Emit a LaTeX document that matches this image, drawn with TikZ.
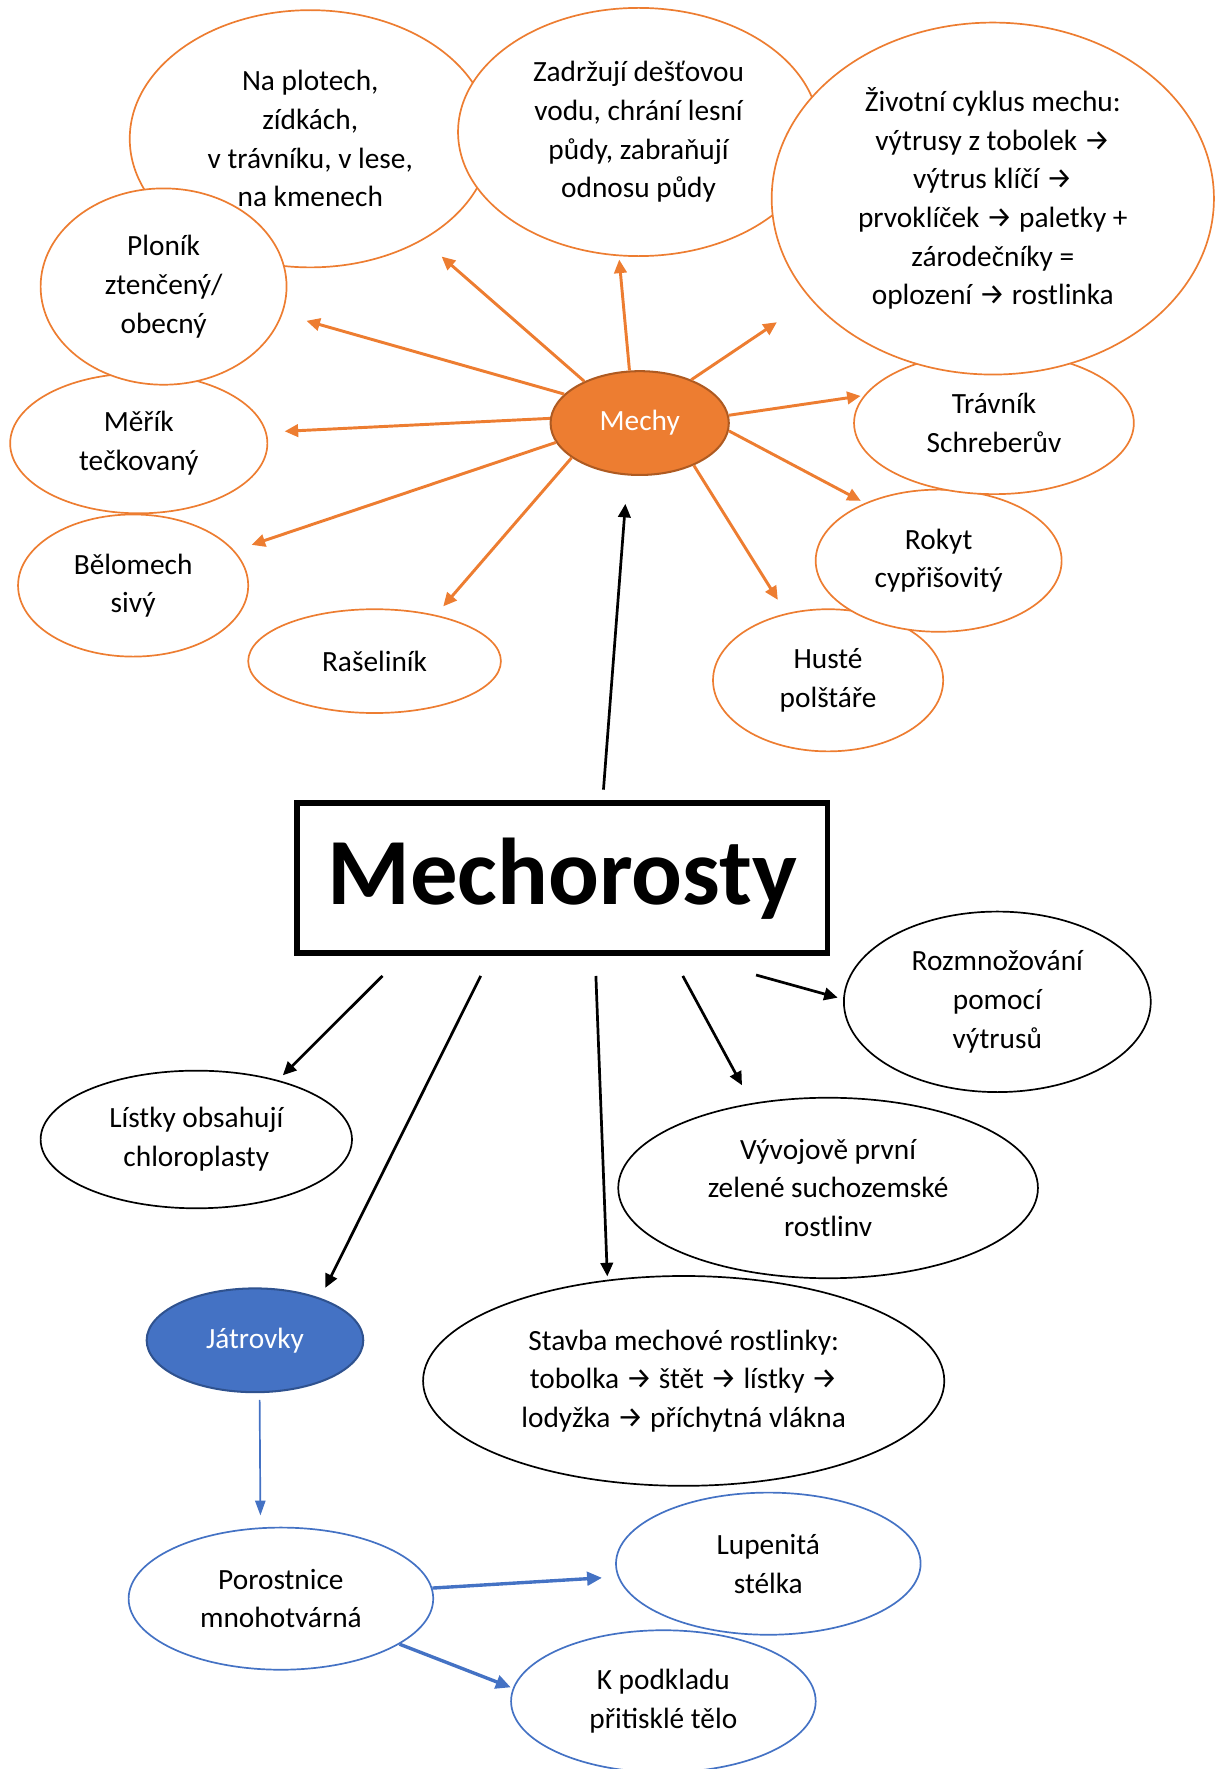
\documentclass[tikz,border=0pt]{standalone}
\usepackage{fontspec}
\setmainfont{Carlito}
\newfontfamily\arrowfont{Fira Sans}
\usepackage{tikz}
\usetikzlibrary{shapes.geometric,arrows.meta}

\definecolor{mossorange}{HTML}{ED7D31}
\definecolor{mossdark}{HTML}{AE5A21}
\definecolor{liverblue}{HTML}{4472C4}
\definecolor{liverdark}{HTML}{2F528F}

\newcommand\bubblefont{\fontsize{13}{17.15}\selectfont}
\newcommand\sipka{{\arrowfont →}}

\tikzset{
  bubble/.style 2 args={ellipse, fill=white, line width=0.75pt, inner sep=0pt,
    align=center, font=\bubblefont, minimum width=#1pt, minimum height=#2pt},
  obub/.style 2 args={bubble={#1}{#2}, draw=mossorange},
  kbub/.style 2 args={bubble={#1}{#2}, draw=black},
  bbub/.style 2 args={bubble={#1}{#2}, draw=liverblue},
  oarrow/.style={mossorange, line width=1.3pt, -{Triangle[length=6pt,width=5.5pt]}},
  karrow/.style={black, line width=1.2pt, -{Triangle[length=6pt,width=5.5pt]}},
  barrow/.style={liverblue, line width=1.5pt, -{Triangle[length=6.6pt,width=6pt]}}
}

\begin{document}
\begin{tikzpicture}[x=0.5pt, y=-0.5pt]

\useasboundingbox (0,0) rectangle (1083,1568);

% mosses, upper part
\node[obub={102}{63}] (huste) at (734,603) {Husté\\polštáře};
\node[obub={109}{63}] (rokyt) at (832,497) {Rokyt\\cypřišovitý};
\node[obub={124}{63}] (travn) at (881,375) {Trávník\\Schreberův};
\node[obub={160}{114}] (naplot) at (275,123) {Na plotech,\\zídkách,\\v trávníku, v lese,\\na kmenech};
\node[obub={160}{110}] (zadrz) at (566,117) {Zadržují dešťovou\\vodu, chrání lesní\\půdy, zabraňují\\odnosu půdy};
\node[obub={196}{156}] (zivot) at (880,176) {Životní cyklus mechu:\\výtrusy z tobolek \sipka\\výtrus klíčí \sipka\\prvoklíček \sipka{} paletky +\\zárodečníky =\\oplození \sipka{} rostlinka};
\node[obub={102}{63}] (belom) at (118,519) {Bělomech\\sivý};
\node[obub={114}{62}] (merik) at (123,393) {Měřík\\tečkovaný};
\node[obub={109}{87}] (plonik) at (145,254) {Ploník\\ztenčený/\\obecný};
\node[obub={112}{46}] (rasel) at (332,586) {Rašeliník};
\node[bubble={79}{46}, fill=mossorange, draw=mossdark, line width=0.9pt, text=white] (mechy) at (567,375) {Mechy};

\foreach \t/\a/\b/\s in {naplot/143.5/-42.9/11, zadrz/101/261.4/1.5, zivot/40.4/209.1/18,
    plonik/159.5/-13/11, merik/177/5.4/8, belom/193.7/19.8/8, rasel/207.7/37.2/5,
    travn/5/168/1.5, rokyt/355.7/142/2, huste/322.4/122.4/7}
  \draw[oarrow, shorten >=\s pt] (mechy.\a) -- (\t.\b);

% main box
\node[draw, line width=2.6pt, minimum width=235pt, minimum height=66.5pt, inner sep=0pt,
  text height=32pt, text depth=8pt,
  font=\fontsize{42}{50}\selectfont\bfseries] (title) at (498.5,778) {Mechorosty};

\draw[karrow, shorten <=4.5pt, shorten >=12.6pt] ([xshift=17.85pt]title.north) -- (mechy.257.6);

% lower part
\node[kbub={136}{80}] (rozmn) at (884,888) {Rozmnožování\\pomocí\\výtrusů};
\node[kbub={138}{61}] (listky) at (174,1010) {Lístky obsahují\\chloroplasty};
\node[kbub={186}{80}] (vyvoj) at (734,1053) {Vývojově první\\zelené suchozemské\\rostlinv};
\node[kbub={231}{93}] (stavba) at (606,1224) {Stavba mechové rostlinky:\\tobolka \sipka{} štět \sipka{} lístky \sipka\\lodyžka \sipka{} příchytná vlákna};
\node[bubble={96}{46}, fill=liverblue, draw=liverdark, line width=0.9pt, text=white] (jatr) at (226,1188) {Játrovky};

\foreach \t/\dx/\b/\sa/\sb in {listky/-70.75/36/12.7/3, jatr/-31.75/33/10/5,
    stavba/14.5/127.8/9/1.5, vyvoj/48.5/132.8/10.2/9, rozmn/55/179/32/2.5}
  \draw[karrow, shorten <=\sa pt, shorten >=\sb pt] ([xshift=\dx pt]title.south) -- (\t.\b);

% liverworts
\node[bbub={135}{63}] (kpodk) at (588,1508) {K podkladu\\přitisklé tělo};
\node[bbub={135}{63}] (lupen) at (681,1386) {Lupenitá\\stélka};
\node[bbub={135}{63}] (poros) at (249,1417) {Porostnice\\mnohotvárná};

\draw[barrow, line width=0.75pt, -{Triangle[length=6.6pt,width=4.6pt]}, shorten <=3pt, shorten >=5.3pt] (jatr.275) -- (poros.106.9);
\draw[barrow, shorten >=7pt] (poros.4.2) -- (lupen.185.6);
\draw[barrow, shorten >=1pt] (poros.339.2) -- (kpodk.175.6);

\end{tikzpicture}
\end{document}
